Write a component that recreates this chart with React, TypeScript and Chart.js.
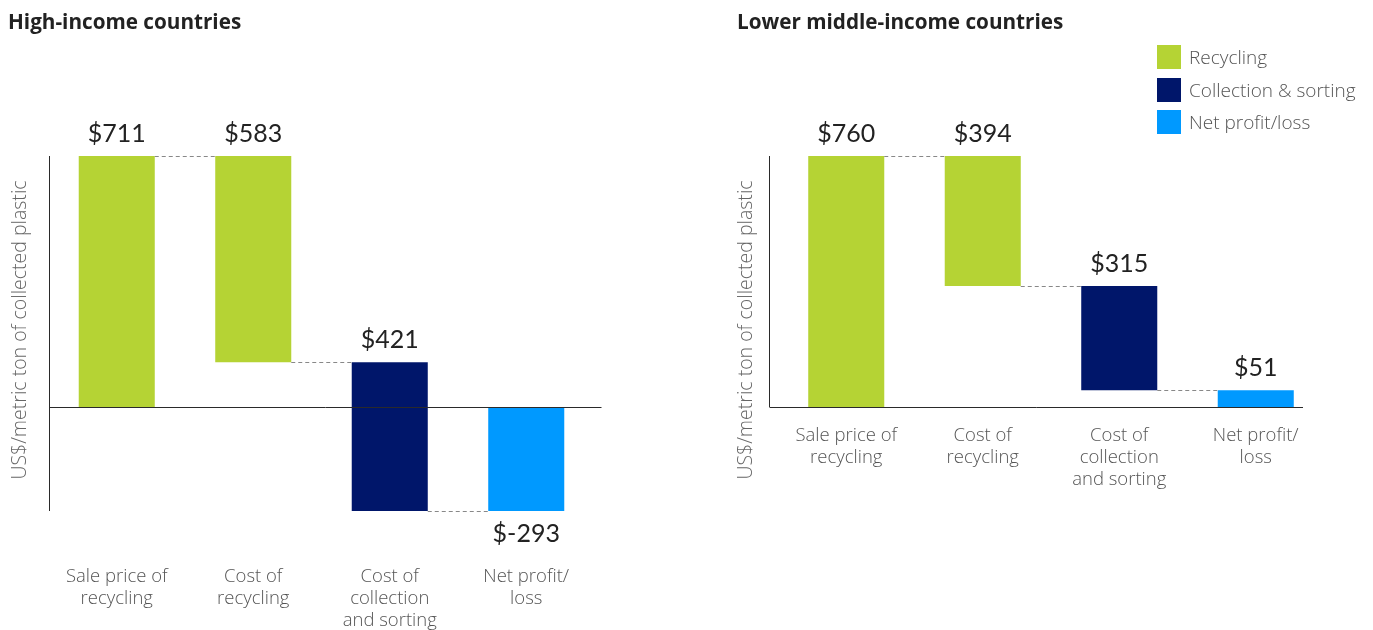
import React, { useEffect, useRef } from "react";
import { Chart, registerables } from "chart.js";

Chart.register(...registerables);

// ---------- data ----------
const categories: string[][] = [
  ["Sale price of", "recycling"],
  ["Cost of", "recycling"],
  ["Cost of", "collection", "and sorting"],
  ["Net profit/", "loss"],
];
const highIncomeValues = [711, 583, 421, -293];
const lowerMiddleValues = [760, 394, 315, 51];
const highIncomeRange = [-293, 711];
const lowerMiddleRange = [0, 760];
const legendLabels = ["Recycling", "Collection & sorting", "Net profit/loss"];
const legendColors = ["#b5d334", "#00166a", "#0099ff"];
const barColorIndex = [0, 0, 1, 2];
const yAxisTitle = "US$/metric ton of collected plastic";
const panelTitles = ["High-income countries", "Lower middle-income countries"];

const VALUE_FONT = "Lato, 'Open Sans', sans-serif";
const LABEL_FONT = "'Open Sans', 'Noto Sans', sans-serif";

function waterfall(values: number[]): [number, number][] {
  let total = 0;
  const out: [number, number][] = [];
  values.forEach((v, i) => {
    if (i === 0) {
      out.push([0, v]);
      total = v;
    } else if (i === values.length - 1) {
      out.push([0, total]);
    } else {
      out.push([total - v, total]);
      total -= v;
    }
  });
  return out;
}

type PanelProps = {
  values: number[];
  range: number[];
  left: number;
  width: number;
  height: number;
  padLeft: number;
  padRight: number;
  padTop: number;
  tickPadding: number;
  axisShift: number;
  zeroExtend: number;
  titleX: number;
  titleY: number;
};

function makeDecor(values: number[], ranges: [number, number][], p: PanelProps) {
  return {
    id: "wfDecor",
    afterDatasetsDraw(chart: any) {
      const { ctx, chartArea, scales } = chart;
      const y = scales.y;
      const meta = chart.getDatasetMeta(0);
      ctx.save();
      // axis lines
      const ax = Math.round(chartArea.left + p.axisShift) + 0.5;
      ctx.strokeStyle = "#2a2a2a";
      ctx.lineWidth = 1;
      ctx.beginPath();
      ctx.moveTo(ax, chartArea.top);
      ctx.lineTo(ax, chartArea.bottom);
      ctx.stroke();
      const zy = Math.round(y.getPixelForValue(0)) + 0.5;
      ctx.beginPath();
      ctx.moveTo(ax, zy);
      ctx.lineTo(chartArea.right + p.zeroExtend, zy);
      ctx.stroke();

      // connectors
      ctx.setLineDash([4, 3]);
      ctx.strokeStyle = "#888";
      for (let i = 0; i < meta.data.length - 1; i++) {
        const a = meta.data[i];
        const b = meta.data[i + 1];
        const level = i === 0 ? ranges[0][1] : ranges[i][0];
        const ly = Math.round(y.getPixelForValue(level)) + 0.5;
        ctx.beginPath();
        ctx.moveTo(a.x + a.width / 2, ly);
        ctx.lineTo(b.x - b.width / 2, ly);
        ctx.stroke();
      }
      ctx.setLineDash([]);

      // value labels
      ctx.fillStyle = "#222";
      ctx.font = `25px ${VALUE_FONT}`;
      ctx.textAlign = "center";
      ctx.textBaseline = "middle";
      meta.data.forEach((bar: any, i: number) => {
        const [lo, hi] = ranges[i];
        const top = y.getPixelForValue(Math.max(lo, hi));
        const bottom = y.getPixelForValue(Math.min(lo, hi));
        const v = values[i];
        const ty = v < 0 ? bottom + 23 : top - 22;
        ctx.fillText("$" + v, bar.x, ty);
      });

      // y axis title
      ctx.save();
      ctx.translate(p.titleX, p.titleY);
      ctx.rotate(-Math.PI / 2);
      ctx.font = `300 19.5px ${LABEL_FONT}`;
      ctx.fillStyle = "#666";
      ctx.textAlign = "center";
      ctx.textBaseline = "middle";
      ctx.fillText(yAxisTitle, 0, 0);
      ctx.restore();

      ctx.restore();
    },
  };
}

function Panel(p: PanelProps) {
  const ref = useRef<HTMLCanvasElement | null>(null);
  useEffect(() => {
    if (!ref.current) return;
    const ranges = waterfall(p.values);
    const chart = new Chart(ref.current, {
      type: "bar",
      data: {
        labels: categories,
        datasets: [
          {
            data: ranges as any,
            backgroundColor: barColorIndex.map((c) => legendColors[c]),
            borderWidth: 0,
            categoryPercentage: 1,
            barPercentage: 0.557,
          },
        ],
      },
      options: {
        animation: false,
        responsive: false,
        maintainAspectRatio: false,
        layout: {
          padding: { left: p.padLeft, right: p.padRight, top: p.padTop, bottom: 0 },
        },
        plugins: {
          legend: { display: false },
          tooltip: { enabled: false },
          title: { display: false },
        },
        scales: {
          x: {
            type: "category",
            grid: { display: false, drawTicks: false },
            border: { display: false },
            afterFit: (s: any) => {
              s.paddingLeft = 0;
              s.paddingRight = 0;
            },
            ticks: {
              autoSkip: false,
              maxRotation: 0,
              minRotation: 0,
              padding: p.tickPadding,
              color: "#555",
              font: { family: LABEL_FONT, size: 18.5, weight: 300 as any, lineHeight: "22px" },
            },
          },
          y: {
            display: false,
            min: p.range[0],
            max: p.range[1],
          },
        },
      },
      plugins: [makeDecor(p.values, ranges, p)],
    });
    return () => chart.destroy();
  }, []);
  return (
    <canvas
      ref={ref}
      width={p.width}
      height={p.height}
      style={{ position: "absolute", left: p.left, top: 0, width: p.width, height: p.height, display: "block" }}
    />
  );
}

const titleStyle: React.CSSProperties = {
  position: "absolute",
  top: 9,
  fontSize: 20.7,
  fontWeight: 700,
  color: "#222",
  lineHeight: "24px",
  fontFamily: LABEL_FONT,
  whiteSpace: "nowrap",
};

export default function App() {
  return (
    <div
      style={{
        position: "fixed",
        left: 0,
        top: 0,
        width: 1373,
        height: 630,
        overflow: "hidden",
        background: "#fff",
        fontFamily: LABEL_FONT,
      }}
    >
      <Panel
        values={highIncomeValues}
        range={highIncomeRange}
        left={0}
        width={620}
        height={687}
        padLeft={48.5}
        padRight={25.5}
        padTop={156}
        tickPadding={55}
        axisShift={0}
        zeroExtend={7}
        titleX={20}
        titleY={330}
      />
      <Panel
        values={lowerMiddleValues}
        range={lowerMiddleRange}
        left={700}
        width={673}
        height={509}
        padLeft={78}
        padRight={49}
        padTop={156}
        tickPadding={18}
        axisShift={-9}
        zeroExtend={-21}
        titleX={46}
        titleY={330}
      />
      <div style={{ ...titleStyle, left: 8 }}>{panelTitles[0]}</div>
      <div style={{ ...titleStyle, left: 737 }}>{panelTitles[1]}</div>
      {legendLabels.map((l, i) => (
        <div
          key={l}
          style={{
            position: "absolute",
            left: 1157,
            top: [45, 78, 110][i],
            height: 24,
            display: "flex",
            alignItems: "center",
          }}
        >
          <div style={{ width: 24, height: 24, background: legendColors[i] }} />
          <div style={{ marginLeft: 8, fontSize: 19, fontWeight: 300, color: "#555", whiteSpace: "nowrap" }}>{l}</div>
        </div>
      ))}
    </div>
  );
}
